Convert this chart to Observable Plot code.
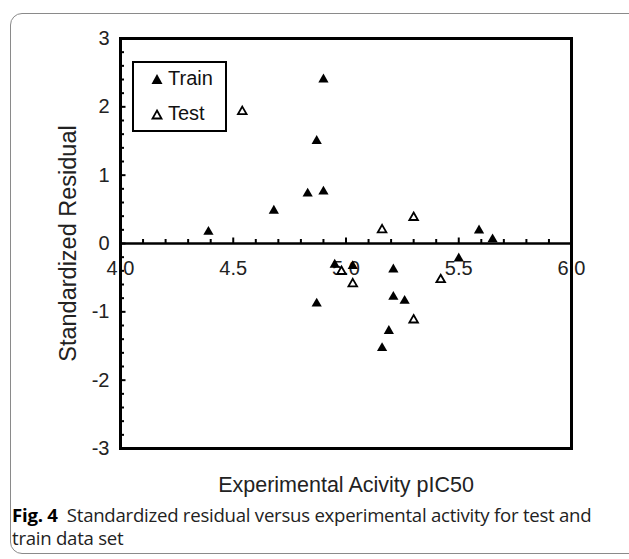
<!DOCTYPE html>
<html>
<head>
<meta charset="utf-8">
<script src="https://cdn.jsdelivr.net/npm/d3@7"></script>
<script src="https://cdn.jsdelivr.net/npm/@observablehq/plot@0.6"></script>
<style>
  body { margin: 0; background: #fff; width: 629px; height: 559px; overflow: hidden; position: relative; }
  #box { position: absolute; left: 10px; top: 13px; width: 640px; height: 541px; border: 1px solid #8a8a8a; border-radius: 12px; box-sizing: border-box; }
  #chart { position: absolute; left: 0; top: 0; }
  #legend { position: absolute; left: 132px; top: 61px; width: 95px; height: 71px; border: 2.5px solid #000; box-sizing: border-box; background: #fff;
            font-family: "Liberation Sans", Arial, sans-serif; font-size: 20px; color: #111; }
  #legend .row { position: absolute; left: 0; display: flex; align-items: center; }
  #caption { position: absolute; left: 12px; top: 503px; width: 617px; font-family: "Open Sans", sans-serif; font-size: 18.6px; line-height: 23px; color: #222; letter-spacing: -0.25px; white-space: nowrap; }
  #caption b { font-weight: 700; color: #000; }
</style>
</head>
<body>
<div id="box"></div>
<div id="chart"></div>
<div id="legend">
  <div class="row" style="top:4px;left:16px"><svg width="14" height="14"><path d="M7,2 L12.5,12 L1.5,12 Z" fill="#000"/></svg><span style="margin-left:4px">Train</span></div>
  <div class="row" style="top:39px;left:16px"><svg width="14" height="14"><path d="M7,3.5 L11.5,11.5 L2.5,11.5 Z" fill="#fff" stroke="#000" stroke-width="1.8"/></svg><span style="margin-left:4px">Test</span></div>
</div>
<div id="caption"><b>Fig. 4</b>&nbsp; Standardized residual versus experimental activity for test and<br>train data set</div>
<script>
const trainX = [4.39, 4.68, 4.83, 4.87, 4.90, 4.90, 4.87, 4.95, 5.03, 5.21, 5.21, 5.26, 5.19, 5.16, 5.50, 5.59, 5.65];
const trainY = [0.17, 0.48, 0.73, 1.50, 2.40, 0.76, -0.88, -0.31, -0.33, -0.38, -0.78, -0.84, -1.28, -1.53, -0.22, 0.19, 0.06];
const testX = [4.54, 4.98, 5.03, 5.16, 5.30, 5.30, 5.42];
const testY = [1.93, -0.41, -0.59, 0.20, 0.38, -1.12, -0.53];

const xTickLabels = ["4.0", "4.5", "5.0", "5.5", "6.0"];
const yTickLabels = ["-3", "-2", "-1", "0", "1", "2", "3"];
const xMinor = d3.range(41, 60).map(d => d / 10);
const yMinor = d3.range(-14, 15).map(d => d / 5);

const train = trainX.map((x, i) => ({x, y: trainY[i]}));
const test = testX.map((x, i) => ({x, y: testY[i]}));
const xTicks = xTickLabels.map(s => ({v: +s, s}));
const yTicks = yTickLabels.map(s => ({v: +s, s}));

const font = "Liberation Sans, Arial, sans-serif";
const pxX = 2 / (629 - 120 - 58);   // data units per px on x
const pxY = 6 / (500 - 38 - 52);    // data units per px on y

const chart = Plot.plot({
  width: 629,
  height: 500,
  marginLeft: 120,
  marginRight: 58,
  marginTop: 38,
  marginBottom: 52,
  x: {domain: [4, 6], axis: null},
  y: {domain: [-3, 3], axis: null},
  style: {fontFamily: font, background: "transparent"},
  marks: [
    Plot.ruleY([0], {stroke: "#000", strokeWidth: 2.5}),
    Plot.ruleX(xMinor, {x: d => d, y1: 0, y2: d => (Math.abs(d * 2 - Math.round(d * 2)) < 1e-6 ? 5.5 : 4) * pxY, stroke: "#000", strokeWidth: 2}),
    Plot.ruleY(yMinor, {y: d => d, x1: 4, x2: d => 4 + (Math.abs(d - Math.round(d)) < 1e-6 ? 5.5 : 4) * pxX, stroke: "#000", strokeWidth: 2}),
    Plot.text(xTicks, {x: "v", y: 0, text: "s", dy: 25, fontSize: 20, fill: "#222"}),
    Plot.text(yTicks, {x: 4, y: "v", text: "s", dx: -11, textAnchor: "end", fontSize: 20, fill: "#222"}),
    Plot.frame({stroke: "#000", strokeWidth: 3}),
    Plot.dot(train, {x: "x", y: "y", symbol: "triangle", r: 3.8, fill: "#000", stroke: "none"}),
    Plot.dot(test, {x: "x", y: "y", symbol: "triangle", r: 3.2, fill: "#fff", stroke: "#000", strokeWidth: 1.8}),
    Plot.text(["Experimental Acivity pIC50"], {frameAnchor: "bottom", dy: 43, fontSize: 21.5, fill: "#222"}),
    Plot.text(["Standardized Residual"], {frameAnchor: "left", textAnchor: "middle", dx: -52, rotate: -90, fontSize: 23.5, fill: "#222"})
  ]
});
document.getElementById("chart").appendChild(chart);
</script>
</body>
</html>
